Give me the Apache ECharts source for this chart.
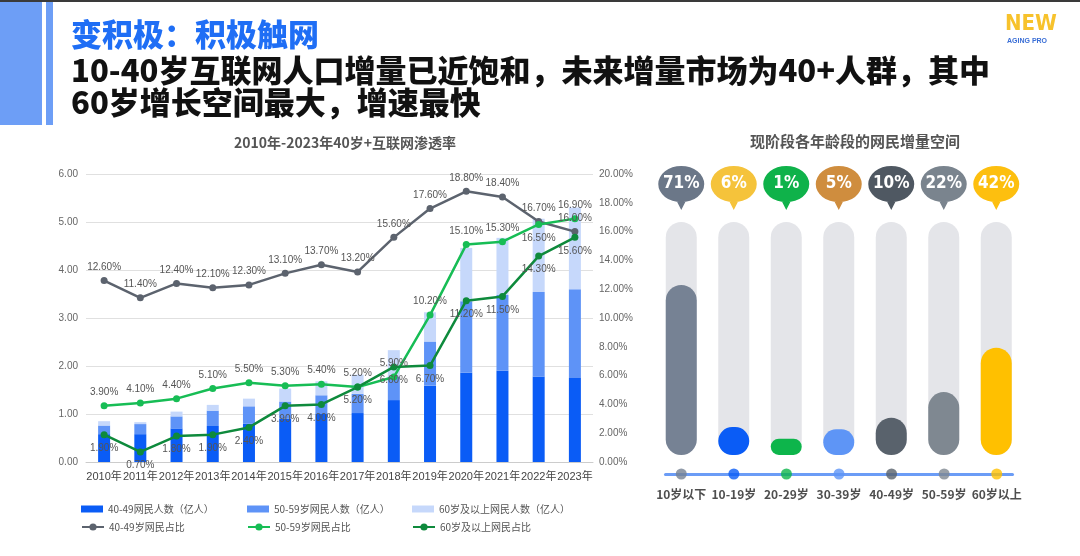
<!DOCTYPE html>
<html><head><meta charset="utf-8">
<script src="https://cdn.jsdelivr.net/npm/echarts@6/dist/echarts.min.js"></script>
<style>html,body{margin:0;padding:0;background:#fff}#c{width:1080px;height:556px}</style>
</head><body><div id="c"></div>
<script>
// ---- data: left chart ----
const years = ['2010年','2011年','2012年','2013年','2014年','2015年','2016年','2017年','2018年','2019年','2020年','2021年','2022年','2023年'];
const users4049 = [0.58,0.58,0.70,0.75,0.80,0.90,1.00,1.02,1.29,1.59,1.86,1.90,1.78,1.75];
const users5059 = [0.18,0.21,0.25,0.32,0.36,0.36,0.39,0.40,0.49,0.92,1.49,1.58,1.76,1.85];
const users60   = [0.09,0.04,0.10,0.12,0.16,0.27,0.29,0.40,0.55,0.61,1.11,1.19,1.53,1.70];
const share4049 = [12.6,11.4,12.4,12.1,12.3,13.1,13.7,13.2,15.6,17.6,18.8,18.4,16.7,16.0];
const share5059 = [3.9,4.1,4.4,5.1,5.5,5.3,5.4,5.2,5.9,10.2,15.1,15.3,16.5,16.9];
const share60   = [1.9,0.7,1.8,1.9,2.4,3.9,4.0,5.2,6.6,6.7,11.2,11.5,14.3,15.6];
const leftTicks = [0,1,2,3,4,5,6];
const rightTicks = [0,2,4,6,8,10,12,14,16,18,20];
// ---- data: right chart ----
const ageGroups = ['10岁以下','10-19岁','20-29岁','30-39岁','40-49岁','50-59岁','60岁以上'];
const growthSpace = [71,6,1,5,10,22,42];
const fillLevel = [73,12,7,11,16,27,46];
const fullLevel = [100,100,100,100,100,100,100];

// ---- styles ----
const C_DARK='#0a5cf6', C_MID='#5e93f7', C_LIGHT='#c6d8fb';
const C_GRAY='#5c636e', C_LGREEN='#17bd55', C_DGREEN='#0e8a3c';
const pillColors=['#768294','#0a5cf6','#0db54b','#5e95f6','#59626c','#7f8891','#ffc000'];
const bubbleColors=['#6b7788','#f5c33b','#0fb24a','#cf8d3e','#4f5862','#7a848e','#fdbf0f'];
const CJK="'Noto Sans CJK SC','Noto Sans',sans-serif";
const LAT="'Liberation Sans',Arial,'Noto Sans CJK SC',sans-serif";
const NARROW="'Liberation Sans Narrow','DejaVu Sans Condensed','Roboto Condensed',sans-serif";

const chart = echarts.init(document.getElementById('c'));
const pctLabel = (pos)=>({show:true,position:pos,fontSize:10,color:'#555',fontFamily:LAT,formatter:p=>p.value.toFixed(2)+'%'});
const lineSeries=(name,data,color,pos)=>({
  name,type:'line',yAxisIndex:1,xAxisIndex:0,data,
  symbol:'circle',symbolSize:7,lineStyle:{width:2.5,color},itemStyle:{color},
  label:pctLabel(pos),z:5
});
const s5059 = share5059.map((v,i)=> i===12 ? {value:v,label:{position:'bottom'}} : v);

const legendBase = {itemWidth:22,itemHeight:7,textStyle:{fontSize:10,color:'#555',fontFamily:CJK},itemGap:4};
const legCols=[76,242,407];
const barNames=['40-49网民人数（亿人）','50-59岁网民人数（亿人）','60岁及以上网民人数（亿人）'];
const lineNames=['40-49岁网民占比','50-59岁网民占比','60岁及以上网民占比'];
const legends=[];
barNames.forEach((n,i)=>legends.push(Object.assign({},legendBase,{data:[{name:n,icon:'rect'}],left:legCols[i],top:499})));
lineNames.forEach((n,i)=>legends.push(Object.assign({},legendBase,{data:[n],left:legCols[i],top:517,itemHeight:9})));

const option = {
  animation:false,
  backgroundColor:'#fff',
  title:[
    {text:'变积极：积极触网',left:66,top:14,textStyle:{fontSize:31,fontWeight:900,color:'#1f6ef5',fontFamily:CJK}},
    {text:'10-40岁互联网人口增量已近饱和，未来增量市场为40+人群，其中\n60岁增长空间最大，增速最快',left:66,top:49,textStyle:{fontSize:31,fontWeight:900,color:'#111',fontFamily:CJK,lineHeight:32}},
    {text:'2010年-2023年40岁+互联网渗透率',left:340,textAlign:'center',top:131,textStyle:{fontSize:14,fontWeight:'bold',color:'#555',fontFamily:CJK}},
    {text:'现阶段各年龄段的网民增量空间',left:850,textAlign:'center',top:129,textStyle:{fontSize:15,fontWeight:'bold',color:'#555',fontFamily:CJK}}
  ],
  graphic:[
    {type:'rect',shape:{x:0,y:0,width:1080,height:2},style:{fill:'#3a3a3a'},silent:true},
    {type:'rect',shape:{x:0,y:2,width:42,height:123},style:{fill:'#6d9ef6'},silent:true},
    {type:'rect',shape:{x:46,y:2,width:7,height:123},style:{fill:'#6d9ef6'},silent:true},
    {type:'text',left:1005,top:13,style:{text:'NEW',fontSize:22,fontWeight:900,fill:'#f7c22c',fontFamily:NARROW}},
    {type:'text',left:1007,top:38,style:{text:'AGING PRO',fontSize:7,fontWeight:'bold',fill:'#3b6fd6',fontFamily:LAT}}
  ],
  legend:legends,
  grid:[
    {left:86,width:507,top:174,height:288},
    {left:655,width:367.5,top:222,height:233},
    {left:665.5,width:347,top:464,height:20}
  ],
  xAxis:[
    {type:'category',gridIndex:0,data:years,axisTick:{show:false},axisLine:{lineStyle:{color:'#ccc'}},
     axisLabel:{interval:0,fontSize:11,color:'#444',margin:9,fontFamily:LAT}},
    {type:'category',gridIndex:1,data:ageGroups,show:false},
    {type:'value',gridIndex:2,min:-0.3,max:6.3,axisLabel:{show:false},axisTick:{show:false},splitLine:{show:false},
     axisLine:{show:true,lineStyle:{color:'#6b9cf6',width:3}}}
  ],
  yAxis:[
    {type:'value',gridIndex:0,min:leftTicks[0],max:leftTicks[leftTicks.length-1],interval:1,
     axisLabel:{fontSize:10,color:'#666',formatter:v=>v.toFixed(2),fontFamily:LAT,margin:8},
     splitLine:{lineStyle:{color:'#e0e0e0'}},axisLine:{show:false},axisTick:{show:false}},
    {type:'value',gridIndex:0,min:rightTicks[0],max:rightTicks[rightTicks.length-1],interval:2,position:'right',
     axisLabel:{fontSize:10,color:'#666',formatter:v=>v.toFixed(2)+'%',fontFamily:LAT,margin:6},
     splitLine:{show:false},axisLine:{show:false},axisTick:{show:false}},
    {type:'value',gridIndex:1,min:0,max:100,show:false},
    {type:'value',gridIndex:2,min:-1,max:1,show:false}
  ],
  series:[
    {name:barNames[0],type:'bar',stack:'u',data:users4049,barWidth:12,itemStyle:{color:C_DARK}},
    {name:barNames[1],type:'bar',stack:'u',data:users5059,barWidth:12,itemStyle:{color:C_MID}},
    {name:barNames[2],type:'bar',stack:'u',data:users60,barWidth:12,itemStyle:{color:C_LIGHT}},
    lineSeries(lineNames[0],share4049,C_GRAY,'top'),
    lineSeries(lineNames[1],s5059,C_LGREEN,'top'),
    lineSeries(lineNames[2],share60,C_DGREEN,'bottom'),
    {type:'bar',xAxisIndex:1,yAxisIndex:2,data:fullLevel,barWidth:31,barGap:'-100%',silent:true,
     itemStyle:{color:'#e4e5e9',borderRadius:15.5},
     markPoint:{
       symbol:'path://M0,18.5A23,18.5,0,1,1,46,18.5A23,18.5,0,1,1,0,18.5ZM29,33L23,45L17,33Z',
       symbolSize:[46,45],symbolOffset:[0,-34],symbolKeepAspect:true,
       label:{show:true,position:'inside',offset:[0,-4],color:'#fff',fontSize:17,fontWeight:'bold',
              fontFamily:NARROW,formatter:p=>p.value+'%'},
       data:ageGroups.map((g,i)=>({coord:[g,fullLevel[i]],value:growthSpace[i],itemStyle:{color:bubbleColors[i]}}))
     }},
    {type:'bar',xAxisIndex:1,yAxisIndex:2,barWidth:31,barGap:'-100%',silent:true,
     data:fillLevel.map((v,i)=>({value:v,itemStyle:{color:pillColors[i]}})),
     itemStyle:{borderRadius:15.5}},
    {type:'scatter',xAxisIndex:2,yAxisIndex:3,symbolSize:11,silent:true,
     data:ageGroups.map((g,i)=>({value:[i,0],itemStyle:{color:pillColors[i]}})),
     label:{show:true,position:'bottom',distance:9,fontSize:12,fontWeight:'bold',color:'#222',fontFamily:CJK,
            formatter:p=>ageGroups[p.dataIndex]}}
  ]
};
chart.setOption(option);
</script></body></html>
